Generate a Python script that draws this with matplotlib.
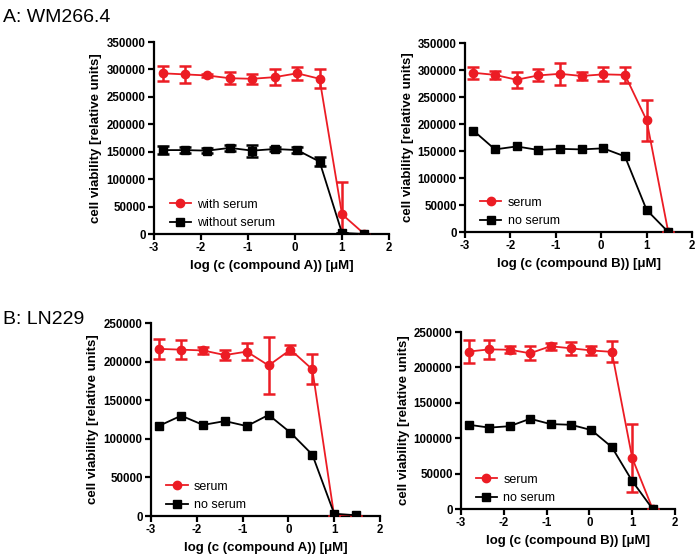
import matplotlib
matplotlib.use("Agg")
import matplotlib.pyplot as plt
from matplotlib.lines import Line2D
import numpy as np

plt.rcParams['font.family'] = ['Liberation Sans', 'DejaVu Sans']

# log10 concentration (µM), 3-fold dilution series
log_conc = [-2.817, -2.340, -1.863, -1.386, -0.908, -0.431, 0.046, 0.523, 1.0, 1.477]

# Panel A left: WM266.4, compound A
a1_red = [293000, 291000, 289000, 284000, 283000, 286000, 293000, 283000, 36000, 0]
a1_red_err = [14000, 15000, 3000, 11000, 9000, 14000, 12000, 17000, 58000, 0]
a1_blk = [153000, 153000, 152000, 157000, 152000, 155000, 153000, 132000, 2000, 0]
a1_blk_err = [8000, 6000, 4000, 5000, 11000, 3000, 5000, 8000, 0, 0]

# Panel A right: WM266.4, compound B
a2_red = [295000, 291000, 282000, 290000, 293000, 289000, 292000, 291000, 207000, 0]
a2_red_err = [11000, 8000, 14500, 11000, 20000, 7000, 13000, 15000, 38000, 0]
a2_blk = [188000, 153000, 158500, 152000, 154000, 153000, 155000, 140000, 41000, 0]

# Panel B left: LN229, compound A
b1_red = [216500, 215500, 214500, 208500, 213000, 195000, 215500, 190000, 0, 0]
b1_red_err = [13000, 12000, 5000, 6500, 11000, 37000, 6000, 19500, 0, 0]
b1_blk = [117000, 130000, 118000, 123000, 116500, 131000, 108000, 79500, 3000, 1000]

# Panel B right: LN229, compound B
b2_red = [222500, 225500, 225000, 220000, 230000, 227000, 224000, 222000, 72000, 0]
b2_red_err = [16000, 13000, 5000, 10000, 5000, 9500, 6000, 15000, 48000, 0]
b2_blk = [119000, 115000, 117000, 127500, 120000, 119000, 111500, 87500, 39500, 0]

xticks = [-3, -2, -1, 0, 1, 2]
RED = '#ec1c24'
BLK = '#000000'

fig = plt.figure(figsize=(6.98, 5.56), dpi=100)


def panel(rect, red, red_err, blk, blk_err, ymax, ystep, xlabel, labels, leg_anchor):
    ax = fig.add_axes(rect)
    x = np.array(log_conc)
    re = None if red_err is None else np.array(red_err, dtype=float)
    be = None if blk_err is None else np.array(blk_err, dtype=float)
    ax.errorbar(x, red, yerr=re, color=RED, marker='o', markersize=6,
                linewidth=1.3, elinewidth=1.8, capsize=4, capthick=1.8, zorder=3)
    ax.errorbar(x, blk, yerr=be, color=BLK, marker='s', markersize=5.5,
                linewidth=1.3, elinewidth=1.8, capsize=4, capthick=1.8, zorder=4)
    ax.set_xlim(-3, 2)
    ax.set_ylim(0, ymax)
    ax.set_xticks(xticks)
    ax.set_xticklabels([str(t) for t in xticks])
    yt = np.arange(0, ymax + 1, ystep)
    ax.set_yticks(yt)
    ax.set_yticklabels([str(int(v)) for v in yt])
    for s in ['top', 'right']:
        ax.spines[s].set_visible(False)
    for s in ['left', 'bottom']:
        ax.spines[s].set_linewidth(1.6)
    ax.tick_params(direction='out', length=4, width=1.6, labelsize=8.3, pad=2)
    for lab in ax.get_xticklabels() + ax.get_yticklabels():
        lab.set_fontweight('bold')
    ax.set_xlabel(xlabel, fontsize=9.5, fontweight='bold', labelpad=4)
    ax.set_ylabel('cell viability [relative units]', fontsize=9.5, fontweight='bold', labelpad=3)
    h1 = Line2D([], [], color=RED, marker='o', markersize=6, linewidth=1.3)
    h2 = Line2D([], [], color=BLK, marker='s', markersize=5.5, linewidth=1.3)
    ax.legend([h1, h2], labels, loc='lower left', bbox_to_anchor=leg_anchor,
              frameon=False, fontsize=9, handlelength=1.7, handletextpad=0.5,
              labelspacing=0.5, borderaxespad=0)
    return ax


panel([0.2206, 0.5791, 0.3367, 0.3453], a1_red, a1_red_err, a1_blk, a1_blk_err,
      350000, 50000, 'log (c (compound A)) [\u03bcM]', ['with serum', 'without serum'],
      (0.045, 0.0))
panel([0.6662, 0.5827, 0.3252, 0.3399], a2_red, a2_red_err, a2_blk, None,
      350000, 50000, 'log (c (compound B)) [\u03bcM]', ['serum', 'no serum'],
      (0.045, 0.0))
panel([0.2163, 0.0719, 0.3281, 0.3471], b1_red, b1_red_err, b1_blk, None,
      250000, 50000, 'log (c (compound A)) [\u03bcM]', ['serum', 'no serum'],
      (0.045, 0.0))
panel([0.6605, 0.0845, 0.3066, 0.3183], b2_red, b2_red_err, b2_blk, None,
      250000, 50000, 'log (c (compound B)) [\u03bcM]', ['serum', 'no serum'],
      (0.045, 0.0))

fig.text(0.004, 1 - 18 / 556, 'A: WM266.4', fontsize=14, va='center', ha='left')
fig.text(0.004, 1 - 319 / 556, 'B: LN229', fontsize=14, va='center', ha='left')

fig.savefig('out.png', dpi=100)
